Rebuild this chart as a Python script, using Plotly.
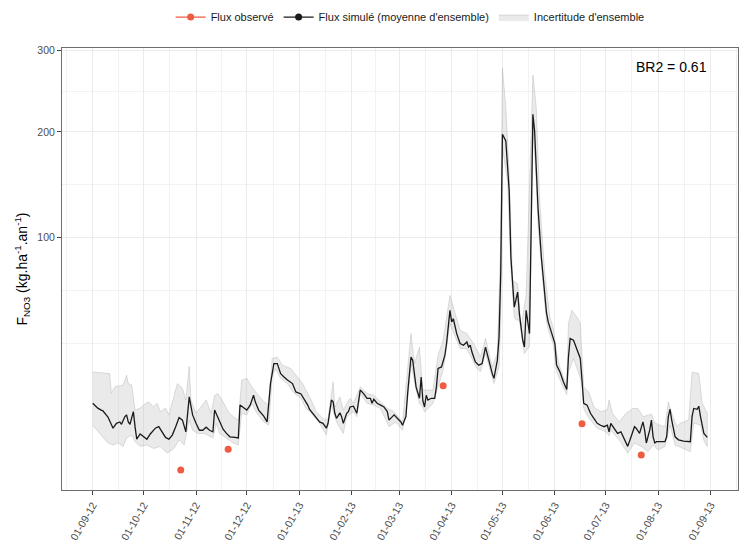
import numpy as np
import pandas as pd
import plotly.graph_objects as go

debut = pd.Timestamp("2012-09-01")

# jours depuis le 01-09-2012, flux en kg/ha/an
jours_sim = [0, 3, 5, 6, 9, 11, 12, 14, 16, 17, 19, 20, 21, 22, 23, 24, 25, 26, 28, 30, 32, 34, 37, 39, 41, 43, 45, 47,
             49, 51, 53, 55, 57, 59, 61, 63, 65, 67, 69, 71, 72, 74, 76, 77, 79, 81, 84, 86, 87, 89, 91, 93, 95, 96, 98,
             101, 103, 105, 107, 109, 111, 113, 115, 118, 120, 123, 125, 127, 128, 130, 132, 134, 136, 138, 139, 141,
             142, 143, 144, 146, 147, 148, 150, 151, 152, 154, 156, 158, 160, 162, 164, 165, 166, 168, 170, 172, 174,
             175, 178, 180, 182, 183, 185, 186, 188, 189, 190, 191, 193, 194, 195, 196, 197, 198, 200, 202, 203, 204,
             206, 208, 209, 211, 212, 213, 215, 217, 219, 221, 222, 223, 224, 226, 228, 230, 232, 234, 236, 237, 239,
             240, 241, 242, 244, 246, 247, 249, 251, 252, 254, 255, 256, 258, 259, 260, 261, 263, 265, 267, 268, 269,
             270, 272, 273, 274, 276, 278, 280, 281, 282, 284, 286, 288, 289, 290, 292, 294, 296, 298, 300, 302, 304,
             305, 306, 308, 310, 312, 314, 316, 318, 320, 321, 323, 325, 326, 327, 329, 330, 331, 332, 333, 335, 338,
             339, 340, 341, 342, 344, 346, 349, 352, 353, 354, 355, 357, 358, 359, 361, 363]
flux_sim = [12.3, 11.0, 10.5, 10.3, 8.8, 7.0, 6.4, 7.4, 7.7, 7.2, 8.9, 9.3, 7.7, 7.2, 8.9, 10.1, 6.7, 4.4, 5.3, 4.8,
            4.4, 5.3, 6.4, 6.7, 5.7, 4.7, 4.4, 5.1, 6.7, 8.7, 8.1, 5.7, 14.1, 9.3, 7.4, 6.0, 6.0, 6.6, 6.0, 5.7, 10.5,
            8.5, 6.7, 6.2, 5.4, 4.8, 4.7, 4.6, 11.8, 11.2, 10.5, 11.8, 14.6, 12.7, 10.5, 9.0, 7.7, 18.3, 25.6, 25.6,
            21.8, 20.6, 19.5, 18.3, 15.6, 15.0, 13.5, 11.8, 10.7, 9.7, 8.5, 7.7, 7.4, 6.4, 7.4, 13.2, 12.7, 9.7, 8.5,
            9.8, 8.9, 7.4, 9.7, 10.1, 11.3, 11.5, 9.7, 16.2, 15.1, 13.7, 13.7, 12.3, 13.4, 12.3, 11.8, 11.3, 10.1,
            8.1, 9.3, 8.5, 7.7, 7.0, 8.9, 15.1, 28.3, 27.0, 20.6, 17.2, 13.7, 20.6, 13.0, 11.3, 14.6, 13.2, 13.7,
            13.7, 17.2, 23.7, 24.3, 29.0, 34.2, 51.1, 44.8, 46.5, 38.9, 34.2, 33.4, 34.9, 32.6, 33.4, 30.4, 26.3,
            25.0, 25.6, 32.6, 26.3, 21.8, 20.1, 27.0, 37.2, 73.6, 197.5, 190.2, 140.1, 85.2, 52.9, 61.8, 49.3, 35.7,
            32.6, 51.1, 38.9, 125.1, 220.0, 201.1, 125.1, 85.2, 62.0, 50.0, 45.0, 42.0, 37.2, 34.2, 25.0, 22.4,
            18.9, 16.4, 28.3, 36.5, 35.7, 31.2, 27.7, 19.5, 12.3, 11.8, 9.7, 8.5, 7.4, 7.0, 6.7, 7.0, 5.7, 7.4, 6.4,
            5.4, 5.7, 4.3, 3.3, 4.8, 6.7, 6.4, 5.4, 7.7, 6.0, 3.8, 6.0, 8.1, 4.8, 3.8, 4.0, 4.0, 4.0, 4.8, 8.9, 10.7,
            8.1, 4.8, 4.3, 4.1, 4.0, 4.0, 8.9, 10.9, 10.7, 11.5, 8.9, 5.4, 4.7]

jours_haut = [0, 10, 11, 13, 18, 20, 21, 23, 25, 28, 30, 33, 36, 38, 40, 43, 45, 47, 50, 53, 55, 57, 58, 61, 64, 67,
              70, 72, 74, 77, 80, 83, 86, 88, 91, 94, 97, 101, 104, 106, 109, 112, 117, 120, 124, 127, 129, 132, 137,
              139, 142, 143, 146, 148, 152, 154, 158, 162, 166, 170, 174, 178, 183, 185, 188, 190, 193, 194, 195, 197,
              201, 204, 207, 211, 213, 217, 221, 225, 229, 232, 236, 239, 241, 242, 244, 246, 248, 251, 253, 256, 260,
              262, 264, 267, 270, 272, 274, 276, 278, 280, 281, 283, 286, 288, 290, 293, 296, 300, 304, 305, 307, 311,
              315, 319, 322, 325, 329, 330, 332, 335, 338, 340, 342, 345, 347, 352, 354, 358, 360, 363]
flux_haut = [22.4, 21.8, 15.2, 17.2, 17.8, 21.2, 18.3, 17.8, 10.5, 11.0, 11.8, 12.7, 11.3, 12.3, 10.1, 11.0, 9.3, 12.3,
             18.3, 16.7, 13.2, 24.5, 13.2, 9.7, 11.3, 13.2, 9.7, 14.6, 15.1, 12.7, 10.1, 8.9, 8.1, 19.5, 20.1, 17.2,
             15.1, 12.7, 11.8, 27.7, 28.3, 25.0, 23.7, 21.2, 18.3, 15.1, 13.2, 10.1, 8.1, 8.5, 18.9, 11.3, 14.1, 10.5,
             13.7, 12.3, 17.2, 15.1, 14.6, 12.7, 10.9, 10.1, 7.7, 17.2, 38.9, 25.6, 32.6, 23.1, 16.2, 16.2, 16.2, 29.0,
             35.7, 59.8, 52.9, 40.5, 38.9, 34.2, 28.3, 36.5, 24.3, 29.8, 97.7, 277.0, 228.0, 156.0, 69.2, 67.1, 42.2,
             59.8, 268.0, 228.0, 131.0, 73.6, 47.4, 42.0, 30.0, 24.0, 20.5, 18.0, 43.9, 51.1, 47.4, 43.9, 17.2, 15.6,
             11.3, 10.1, 10.5, 13.2, 9.7, 7.7, 9.7, 10.9, 10.9, 8.9, 9.3, 9.5, 7.5, 7.0, 6.7, 12.7, 9.7, 6.7, 7.4, 8.1,
             22.4, 21.8, 12.3, 9.7]

jours_bas = [0, 3, 6, 9, 12, 15, 18, 20, 23, 25, 28, 32, 36, 40, 44, 48, 51, 54, 57, 59, 62, 66, 71, 73, 75, 79, 83,
             86, 88, 91, 94, 97, 101, 104, 106, 108, 111, 115, 119, 123, 126, 129, 131, 134, 138, 141, 144, 148, 150,
             154, 156, 158, 162, 166, 170, 175, 179, 183, 186, 188, 191, 193, 195, 196, 201, 204, 207, 211, 215, 217,
             221, 227, 229, 232, 237, 240, 241, 242, 245, 247, 249, 250, 252, 255, 258, 259, 260, 262, 263, 265, 267,
             268, 269, 270, 272, 274, 276, 278, 280, 281, 284, 289, 290, 291, 294, 298, 303, 305, 306, 311, 316, 320,
             324, 328, 331, 334, 338, 341, 344, 351, 353, 355, 359, 361, 363]
flux_bas = [7.0, 6.0, 4.8, 3.8, 3.5, 3.8, 3.3, 4.6, 5.1, 4.0, 3.3, 3.5, 3.0, 3.3, 2.4, 3.0, 4.3, 3.5, 8.1, 6.0, 5.4,
            5.4, 4.6, 7.4, 5.4, 4.6, 3.8, 3.5, 9.7, 9.3, 12.3, 9.7, 7.7, 7.0, 20.5, 23.7, 20.1, 18.3, 15.1, 13.7, 10.9,
            9.8, 8.9, 7.4, 5.1, 11.8, 7.7, 5.4, 8.9, 10.1, 8.9, 15.1, 12.3, 11.8, 10.9, 6.7, 7.7, 6.0, 13.2, 25.6,
            16.2, 12.3, 11.3, 10.0, 12.3, 17.2, 23.1, 43.9, 35.7, 32.0, 31.9, 23.7, 22.5, 29.8, 18.3, 24.3, 45.0,
            183.0, 149.5, 78.1, 47.0, 46.0, 45.6, 29.8, 33.0, 90.0, 204.8, 149.5, 110.0, 78.1, 55.0, 45.0, 41.0, 39.0,
            34.0, 22.5, 20.0, 17.0, 14.8, 22.4, 27.7, 18.5, 11.0, 10.0, 8.1, 6.4, 5.7, 5.0, 6.0, 4.3, 2.4, 3.8, 3.3,
            2.6, 3.5, 2.8, 3.3, 7.0, 3.5, 2.8, 2.6, 7.5, 7.0, 4.2, 3.3]

jours_obs = [52, 80, 207, 289, 324]
flux_obs = [0.8, 2.9, 17.6, 7.3, 2.2]

br2 = 0.61


def en_dates(jours):
    return debut + pd.to_timedelta(jours, unit="D")


# axe en racine carree (comme scale_y_sqrt)
sq = np.sqrt

x_sim, x_haut, x_bas, x_obs = en_dates(jours_sim), en_dates(jours_haut), en_dates(jours_bas), en_dates(jours_obs)

fig = go.Figure()

# ruban d'incertitude
fig.add_trace(go.Scatter(
    x=list(x_haut) + list(x_bas[::-1]),
    y=list(sq(flux_haut)) + list(sq(flux_bas)[::-1]),
    fill="toself",
    fillcolor="rgba(190,190,190,0.33)",
    line=dict(color="rgba(170,170,170,0.55)", width=0.7),
    mode="lines",
    name="Incertitude d'ensemble",
    legendrank=3,
    hoverinfo="skip",
))

fig.add_trace(go.Scatter(x=x_sim, y=sq(flux_sim), mode="lines", line=dict(color="#1a1a1a", width=1.3),
                         showlegend=False, customdata=flux_sim, hovertemplate="%{x}: %{customdata}<extra></extra>"))
fig.add_trace(go.Scatter(x=x_obs, y=sq(flux_obs), mode="markers", marker=dict(color="#EE5C42", size=7),
                         showlegend=False, customdata=flux_obs, hovertemplate="%{x}: %{customdata}<extra></extra>"))

# entrees de legende (ligne + point comme ggplot)
fig.add_trace(go.Scatter(x=[None], y=[None], mode="lines+markers", name="Flux observé", legendrank=1,
                         line=dict(color="#EE5C42", width=1.3), marker=dict(color="#EE5C42", size=7)))
fig.add_trace(go.Scatter(x=[None], y=[None], mode="lines+markers", name="Flux simulé (moyenne d'ensemble)",
                         legendrank=2, line=dict(color="#1a1a1a", width=1.3), marker=dict(color="#1a1a1a", size=7)))

# echelle y : limites + 5 %, graduations mineures a la ggplot
tout = np.sqrt(np.concatenate([flux_sim, flux_haut, flux_bas, flux_obs]))
pad_y = 0.05 * (tout.max() - tout.min())
y_range = [tout.min() - pad_y, tout.max() + pad_y]
majeurs = np.sqrt([100, 200, 300])
b = np.concatenate([[majeurs[0] - (majeurs[1] - majeurs[0])], majeurs])
mineurs = list(b[:1]) + list((b[:-1] + b[1:]) / 2)

# echelle x
pad_x = 0.05 * (max(jours_sim) - min(jours_sim))
x_range = [debut + pd.Timedelta(days=min(jours_sim) - pad_x), debut + pd.Timedelta(days=max(jours_sim) + pad_x)]
mois = pd.date_range("2012-09-01", "2013-09-01", freq="MS")
mois_ext = pd.date_range("2012-08-01", "2013-10-01", freq="MS")
mi_mois = [a + (c - a) / 2 for a, c in zip(mois_ext[:-1], mois_ext[1:])]

axe = dict(showline=True, mirror=True, linecolor="#6e6e6e", linewidth=1, ticks="outside", ticklen=4,
           tickcolor="#444444", tickfont=dict(size=10.5, color="#4d4d4d"), showgrid=True, gridcolor="#ebebeb",
           gridwidth=1, zeroline=False, automargin=False)

fig.update_xaxes(**axe, range=x_range, tickmode="array", tickvals=mois, tickformat="%d-%m-%y", tickangle=-60,
                 minor=dict(tickmode="array", tickvals=mi_mois, showgrid=True, gridcolor="#f2f2f2", gridwidth=0.6,
                            ticks=""))
fig.update_yaxes(**axe, range=y_range, tickmode="array", tickvals=majeurs, ticktext=["100", "200", "300"],
                 minor=dict(tickmode="array", tickvals=mineurs, showgrid=True, gridcolor="#f2f2f2", gridwidth=0.6,
                            ticks=""),
                 title=dict(text="F<sub>NO3</sub> (kg.ha<sup>-1</sup>.an<sup>-1</sup>)",
                            font=dict(size=14, color="black"), standoff=6))

fig.add_annotation(text=f"BR2 = {br2}", xref="paper", yref="paper", x=0.957, y=0.957, xanchor="right",
                   yanchor="middle", showarrow=False, font=dict(size=14, color="black"))

# la page ajoute une marge de 8 px : figure un peu plus petite
fig.update_layout(
    width=742, height=539, autosize=False,
    margin=dict(l=54, r=12, t=40, b=57, autoexpand=False),
    paper_bgcolor="white", plot_bgcolor="white",
    font=dict(family="Liberation Sans, Arial, sans-serif", color="#1a1a1a"),
    legend=dict(orientation="h", x=0.515, xanchor="center", y=1.07, yanchor="middle", font=dict(size=11),
                itemwidth=30, bgcolor="rgba(0,0,0,0)"),
    showlegend=True,
)

fig.write_html("out.html")
